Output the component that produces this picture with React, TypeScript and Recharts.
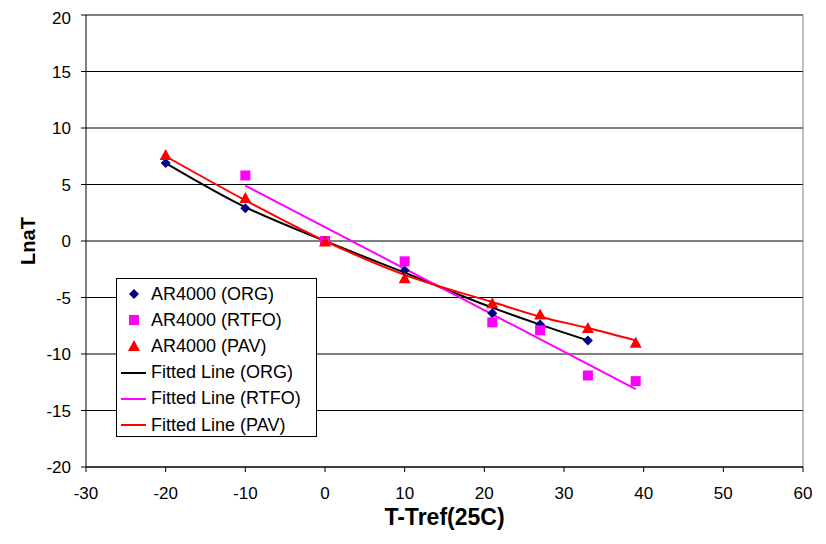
import {
  ComposedChart,
  Scatter,
  Line,
  XAxis,
  YAxis,
  CartesianGrid,
  Legend,
  ReferenceLine,
} from "recharts";

// measured points
const orgX = [-20, -10, 0, 10, 21, 27, 33];
const orgY = [6.9, 2.9, 0, -2.6, -6.4, -7.4, -8.8];
const rtfoX = [-10, 0, 10, 21, 27, 33, 39];
const rtfoY = [5.8, 0, -1.8, -7.2, -7.9, -11.9, -12.4];
const pavX = [-20, -10, 0, 10, 21, 27, 33, 39];
const pavY = [7.6, 3.8, -0.05, -3.3, -5.5, -6.5, -7.7, -9.0];

// fitted lines
const fitOrgX = [-20, -10, 0, 10, 21, 27, 33];
const fitOrgY = [6.9, 3.0, 0, -2.8, -5.9, -7.4, -8.8];
const fitRtfoX = [-10, 39];
const fitRtfoY = [4.9, -13.1];
const fitPavX = [-20, -10, 0, 10, 21, 27, 33, 39];
const fitPavY = [7.5, 3.6, 0, -3.0, -5.4, -6.7, -7.7, -8.8];

const xTicks = [-30, -20, -10, 0, 10, 20, 30, 40, 50, 60];
const yTicks = [-20, -15, -10, -5, 0, 5, 10, 15, 20];

const toRows = (xs: number[], ys: number[]) => xs.map((x, i) => ({ x, y: ys[i] }));

const NAVY = "#000080";
const MAGENTA = "#FF00FF";
const RED = "#FF0000";
const FONT = "'Liberation Sans', Arial, sans-serif";

const Diamond = ({ cx, cy }: any) => (
  <polygon
    points={`${cx},${cy - 5} ${cx + 5},${cy} ${cx},${cy + 5} ${cx - 5},${cy}`}
    fill={NAVY}
  />
);
const Square = ({ cx, cy }: any) => (
  <rect x={cx - 5} y={cy - 5} width={10} height={10} fill={MAGENTA} />
);
const Triangle = ({ cx, cy }: any) => (
  <polygon
    points={`${cx},${cy - 6} ${cx + 6},${cy + 5} ${cx - 6},${cy + 5}`}
    fill={RED}
  />
);

const legendItems = [
  { label: "AR4000 (ORG)", kind: "diamond" },
  { label: "AR4000 (RTFO)", kind: "square" },
  { label: "AR4000 (PAV)", kind: "triangle" },
  { label: "Fitted Line (ORG)", kind: "line", color: "#000000" },
  { label: "Fitted Line (RTFO)", kind: "line", color: MAGENTA },
  { label: "Fitted Line (PAV)", kind: "line", color: RED },
];

const renderLegend = () => (
  <div
    style={{
      border: "1px solid #000",
      background: "#fff",
      width: 199,
      height: 155,
      paddingTop: 2,
      boxSizing: "content-box",
      fontFamily: FONT,
      fontSize: 18,
      color: "#000",
    }}
  >
    {legendItems.map((it) => (
      <div key={it.label} style={{ display: "flex", alignItems: "center", height: 26.2 }}>
        <svg width={34} height={20} style={{ flex: "none" }}>
          {it.kind === "diamond" && <Diamond cx={17} cy={10} />}
          {it.kind === "square" && <Square cx={17} cy={10} />}
          {it.kind === "triangle" && <Triangle cx={17} cy={10} />}
          {it.kind === "line" && (
            <line x1={4} x2={29} y1={10} y2={10} stroke={it.color} strokeWidth={2} />
          )}
        </svg>
        <span style={{ whiteSpace: "nowrap" }}>{it.label}</span>
      </div>
    ))}
  </div>
);

const YTitle = ({ viewBox }: any) => {
  const cy = viewBox.y + viewBox.height / 2;
  return (
    <text
      x={19.5}
      y={cy}
      transform={`rotate(-90, 19.5, ${cy})`}
      textAnchor="middle"
      dominantBaseline="central"
      fontFamily={FONT}
      fontWeight="bold"
      fontSize={20}
      fill="#000"
    >
      LnaT
    </text>
  );
};

export default function App() {
  return (
    <div style={{ width: 818, height: 536, background: "#fff" }}>
      <ComposedChart
        width={818}
        height={536}
        margin={{ top: 7, right: 23, left: 18, bottom: 47 }}
        style={{ fontFamily: FONT }}
      >
        <CartesianGrid horizontal vertical={false} stroke="#000" strokeWidth={1} />
        <XAxis
          type="number"
          dataKey="x"
          domain={[-30, 60]}
          ticks={xTicks}
          height={30}
          tickSize={5}
          tickMargin={15}
          stroke="#000"
          tick={{ fill: "#000", fontSize: 17 }}
          allowDataOverflow
          label={{
            value: "T-Tref(25C)",
            position: "bottom",
            offset: 12,
            style: { fontWeight: "bold", fontSize: 23, fill: "#000" },
          }}
        />
        <YAxis
          type="number"
          domain={[-20, 20]}
          ticks={yTicks}
          width={60}
          tickSize={5}
          tickMargin={10}
          stroke="#000"
          tick={{ fill: "#000", fontSize: 17 }}
          allowDataOverflow
          label={{ content: YTitle }}
        />
        <ReferenceLine x={60} stroke="#808080" strokeWidth={1} />
        <Scatter
          name="AR4000 (ORG)"
          data={toRows(orgX, orgY)}
          dataKey="y"
          shape={Diamond}
          isAnimationActive={false}
        />
        <Scatter
          name="AR4000 (RTFO)"
          data={toRows(rtfoX, rtfoY)}
          dataKey="y"
          shape={Square}
          isAnimationActive={false}
        />
        <Scatter
          name="AR4000 (PAV)"
          data={toRows(pavX, pavY)}
          dataKey="y"
          shape={Triangle}
          isAnimationActive={false}
        />
        <Line
          name="Fitted Line (ORG)"
          data={toRows(fitOrgX, fitOrgY)}
          dataKey="y"
          type="monotone"
          stroke="#000"
          strokeWidth={2}
          dot={false}
          activeDot={false}
          isAnimationActive={false}
        />
        <Line
          name="Fitted Line (RTFO)"
          data={toRows(fitRtfoX, fitRtfoY)}
          dataKey="y"
          type="linear"
          stroke={MAGENTA}
          strokeWidth={2}
          dot={false}
          activeDot={false}
          isAnimationActive={false}
        />
        <Line
          name="Fitted Line (PAV)"
          data={toRows(fitPavX, fitPavY)}
          dataKey="y"
          type="monotone"
          stroke={RED}
          strokeWidth={2}
          dot={false}
          activeDot={false}
          isAnimationActive={false}
        />
        <Legend
          layout="vertical"
          align="center"
          verticalAlign="middle"
          content={renderLegend}
          wrapperStyle={{ left: 108, top: 270, width: 201, height: 159 }}
        />
      </ComposedChart>
    </div>
  );
}
